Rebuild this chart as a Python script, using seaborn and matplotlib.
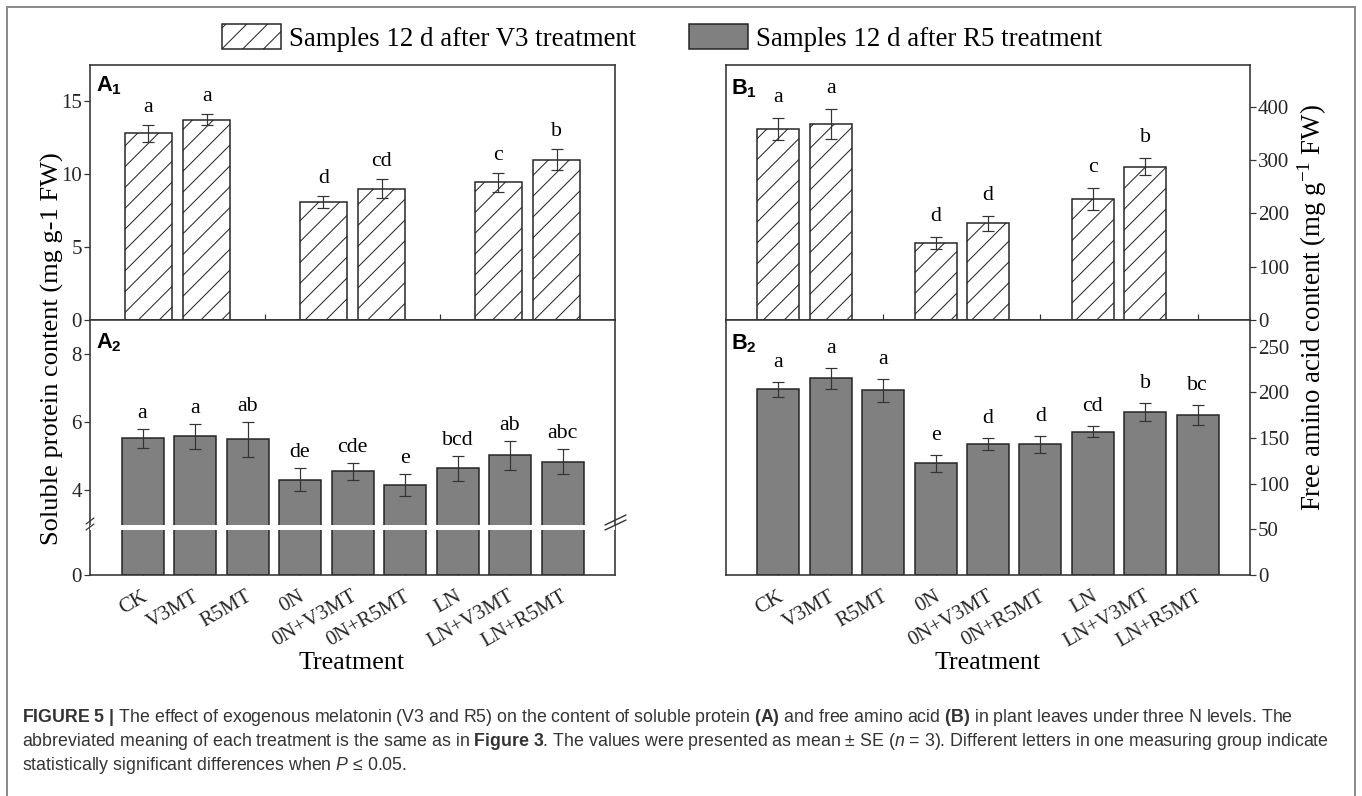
import numpy as np
import matplotlib
matplotlib.use("Agg")
import matplotlib.pyplot as plt
import matplotlib.transforms as mtransforms
from matplotlib.patches import Patch
from matplotlib.lines import Line2D
from matplotlib import font_manager as fm
import seaborn as sns

# ---------------- data ----------------
treatments = ["CK", "V3MT", "R5MT", "0N", "0N+V3MT", "0N+R5MT", "LN", "LN+V3MT", "LN+R5MT"]
v3_treatments = ["CK", "V3MT", "0N", "0N+V3MT", "LN", "LN+V3MT"]

protein_v3 = [12.8, 13.75, 8.1, 9.0, 9.45, 11.0]
protein_v3_se = [0.6, 0.4, 0.43, 0.65, 0.67, 0.73]
protein_v3_letters = ["a", "a", "d", "cd", "c", "b"]

protein_r5 = [5.52, 5.57, 5.49, 4.30, 4.54, 4.13, 4.63, 5.01, 4.82]
protein_r5_se = [0.28, 0.37, 0.52, 0.33, 0.25, 0.32, 0.36, 0.42, 0.37]
protein_r5_letters = ["a", "a", "ab", "de", "cde", "e", "bcd", "ab", "abc"]

amino_v3 = [358, 367, 144, 181, 227, 287]
amino_v3_se = [21, 28, 11, 14, 20, 16]
amino_v3_letters = ["a", "a", "d", "d", "c", "b"]

amino_r5 = [203, 215, 202, 122, 143, 143, 157, 178, 175]
amino_r5_se = [8, 11, 12.5, 9, 6.5, 9.5, 5.5, 10, 11]
amino_r5_letters = ["a", "a", "a", "e", "d", "d", "cd", "b", "bc"]

legend_labels = ["Samples 12 d after V3 treatment", "Samples 12 d after R5 treatment"]
ylabel_left = "Soluble protein content (mg g-1 FW)"
ylabel_right = r"Free amino acid content (mg g$^{-1}$ FW)"
xlabel = "Treatment"

# ---------------- setup ----------------
W, H, DPI = 1362, 796, 125


def pt(px):
    return px * 72.0 / DPI


avail = {f.name for f in fm.fontManager.ttflist}
CAP_FONT = "Liberation Sans Narrow" if "Liberation Sans Narrow" in avail else "Liberation Sans"

sns.set_theme(style="white")
plt.rcParams["font.family"] = ["Liberation Serif", "DejaVu Serif"]
plt.rcParams["mathtext.fontset"] = "custom"
plt.rcParams["mathtext.rm"] = "Liberation Serif"
plt.rcParams["mathtext.bf"] = "Liberation Sans:bold"
plt.rcParams["mathtext.sf"] = CAP_FONT + ":bold"
plt.rcParams["mathtext.it"] = CAP_FONT + ":italic"
plt.rcParams["axes.edgecolor"] = "#333333"
plt.rcParams["axes.linewidth"] = pt(1.6)
plt.rcParams["hatch.linewidth"] = pt(1.0)
plt.rcParams["hatch.color"] = "#222222"
plt.rcParams["text.color"] = "black"

EDGE = "#222222"
GRAY = "#808080"
TICK_FS = 12
LET_FS = 12.5

fig = plt.figure(figsize=(W / DPI, H / DPI), dpi=DPI)
fig.patch.set_facecolor("white")


def add_ax(l, t, r, b):
    return fig.add_axes([l / W, 1 - b / H, (r - l) / W, (b - t) / H])


def ftext(x, y, s, **kw):
    return fig.text(x / W, 1 - y / H, s, **kw)


def fline(xs, ys, **kw):
    fig.add_artist(Line2D([x / W for x in xs], [1 - y / H for y in ys],
                          transform=fig.transFigure, **kw))


def draw_bars(ax, pos, vals, se, letters, hatched, off_px):
    sns.barplot(x=pos, y=vals, native_scale=True, orient="x", width=0.8,
                color=GRAY, saturation=1, edgecolor=EDGE, linewidth=pt(1.5),
                errorbar=None, ax=ax, zorder=2)
    if hatched:
        for p in ax.patches:
            p.set_facecolor("white")
            p.set_hatch("//")
            p.set_edgecolor(EDGE)
    ax.errorbar(pos, vals, yerr=se, fmt="none", ecolor="#333333",
                elinewidth=pt(1.2), capsize=pt(6), capthick=pt(1.2), zorder=4)
    for x, v, s, l in zip(pos, vals, se, letters):
        ax.annotate(l, (x, v + s), xytext=(0, pt(off_px)), textcoords="offset points",
                    ha="center", va="baseline", fontsize=LET_FS)


def style_ax(ax, side):
    ax.tick_params(axis="x", which="both", direction="in", length=pt(6), width=pt(1.2),
                   bottom=True, top=False, labelbottom=False, color="#333333")
    if side == "left":
        ax.tick_params(axis="y", direction="out", length=pt(6), width=pt(1.2), left=True,
                       right=False, labelleft=True, labelright=False, labelsize=TICK_FS,
                       pad=pt(2), color="#333333")
    else:
        ax.tick_params(axis="y", direction="out", length=pt(6), width=pt(1.2), left=False,
                       right=True, labelleft=False, labelright=True, labelsize=TICK_FS,
                       pad=pt(2), color="#333333")
    for s in ax.spines.values():
        s.set_visible(True)
        s.set_color("#333333")
    ax.set_xlabel("")
    ax.set_ylabel("")


def set_xlabels(ax):
    ax.set_xticks(range(1, len(treatments) + 1))
    ax.set_xticklabels(treatments, rotation=30, ha="right", va="top", fontsize=TICK_FS)
    ax.tick_params(axis="x", labelbottom=True, pad=pt(12))
    shift = mtransforms.ScaledTranslation(8 / DPI, 0, fig.dpi_scale_trans)
    for lab in ax.get_xticklabels():
        lab.set_transform(lab.get_transform() + shift)


pos_all = [treatments.index(t) + 1 for t in treatments]
pos_v3 = [treatments.index(t) + 1 for t in v3_treatments]
pos_a1 = [v3_treatments.index(t) // 2 * 3 + v3_treatments.index(t) % 2 + 1 for t in v3_treatments]

# ---------------- panel A1 ----------------
axA1 = add_ax(90, 65, 615, 320)
draw_bars(axA1, pos_a1, protein_v3, protein_v3_se, protein_v3_letters, True, 13)
style_ax(axA1, "left")
axA1.set_xlim(0, 9)
axA1.set_ylim(0, 17.5)
axA1.set_yticks([0, 5, 10, 15])
axA1.set_yticklabels(["0", "5", "10", "15"])
axA1.set_xticks(range(1, 9))

# ---------------- panel A2 (broken axis) ----------------
BRK, LOW_PX, K_UP = 2.9, 48.0, 34.0


def fwd(y):
    y = np.asarray(y, dtype=float)
    return np.where(y <= BRK, y * LOW_PX / BRK, LOW_PX + (y - BRK) * K_UP)


def inv(u):
    u = np.asarray(u, dtype=float)
    return np.where(u <= LOW_PX, u * BRK / LOW_PX, BRK + (u - LOW_PX) / K_UP)


axA2 = add_ax(90, 320, 615, 575)
axA2.set_yscale("function", functions=(fwd, inv))
draw_bars(axA2, pos_all, protein_r5, protein_r5_se, protein_r5_letters, False, 11)
style_ax(axA2, "left")
axA2.set_xlim(0, 10)
axA2.set_ylim(0, 9)
axA2.set_yticks([0, 4, 6, 8])
axA2.set_yticklabels(["0", "4", "6", "8"])
axA2.yaxis.set_minor_locator(matplotlib.ticker.NullLocator())
set_xlabels(axA2)
axA2.axhline(BRK, color="white", lw=pt(5), zorder=6)

# break marks
fline([605, 626], [530, 520], color="#333333", lw=pt(1.4), zorder=10)
fline([605, 626], [525, 515], color="#333333", lw=pt(1.4), zorder=10)
fline([86, 94], [530, 524], color="#333333", lw=pt(1.2), zorder=10)
fline([86, 94], [524, 518], color="#333333", lw=pt(1.2), zorder=10)

# ---------------- panel B1 ----------------
axB1 = add_ax(726, 65, 1250, 320)
draw_bars(axB1, pos_v3, amino_v3, amino_v3_se, amino_v3_letters, True, 16)
style_ax(axB1, "right")
axB1.set_xlim(0, 10)
axB1.set_ylim(0, 478)
axB1.set_yticks([0, 100, 200, 300, 400])
axB1.set_yticklabels(["0", "100", "200", "300", "400"])
axB1.set_xticks(range(1, 10))

# ---------------- panel B2 ----------------
axB2 = add_ax(726, 320, 1250, 575)
draw_bars(axB2, pos_all, amino_r5, amino_r5_se, amino_r5_letters, False, 15)
style_ax(axB2, "right")
axB2.set_xlim(0, 10)
axB2.set_ylim(0, 279)
axB2.set_yticks([0, 50, 100, 150, 200, 250])
axB2.set_yticklabels(["0", "50", "100", "150", "200", "250"])
set_xlabels(axB2)

# ---------------- panel letters ----------------
for x, y, s in [(96, 74, r"$\mathbf{A}_{\mathbf{1}}$"), (96, 331, r"$\mathbf{A}_{\mathbf{2}}$"),
                (731, 77, r"$\mathbf{B}_{\mathbf{1}}$"), (731, 332, r"$\mathbf{B}_{\mathbf{2}}$")]:
    ftext(x, y, s, fontsize=12.5, ha="left", va="top")

# ---------------- axis titles ----------------
ftext(352, 663, xlabel, fontsize=15, ha="center", va="center")
ftext(988, 663, xlabel, fontsize=15, ha="center", va="center")
ftext(52, 349, ylabel_left, fontsize=15.2, rotation=90, ha="center", va="center")
ftext(1312, 308, ylabel_right, fontsize=15.5, rotation=90, ha="center", va="center")

# ---------------- legend ----------------
handles = [Patch(facecolor="white", edgecolor=EDGE, hatch="//", linewidth=pt(1.5)),
           Patch(facecolor=GRAY, edgecolor=EDGE, linewidth=pt(1.5))]
fig.legend(handles=handles, labels=legend_labels, loc="center",
           bbox_to_anchor=(662 / W, 1 - 38 / H), ncol=2, frameon=False, fontsize=15.5,
           handlelength=2.19, handleheight=1.07, handletextpad=0.3, columnspacing=1.96,
           borderpad=0, borderaxespad=0)

# ---------------- caption ----------------
cap1 = (r"$\mathsf{FIGURE\ 5\ |}$ The effect of exogenous melatonin (V3 and R5) on the content of "
        r"soluble protein $\mathsf{(A)}$ and free amino acid $\mathsf{(B)}$ in plant leaves under three N levels. The")
cap2 = (r"abbreviated meaning of each treatment is the same as in $\mathsf{Figure\ 3}$. The values were "
        r"presented as mean ± SE ($\mathit{n}$ = 3). Different letters in one measuring group indicate")
cap3 = r"statistically significant differences when $\mathit{P}$ ≤ 0.05."
cap_fs = 11.2 if CAP_FONT.endswith("Narrow") else 10.2
for i, line in enumerate([cap1, cap2, cap3]):
    ftext(22, 718 + 24 * i, line, fontsize=cap_fs, ha="left", va="center",
          family=[CAP_FONT, "DejaVu Sans"], color="#333333")

# ---------------- outer frame ----------------
fline([7, 1355], [7, 7], color="#8c8c8c", lw=pt(2))
fline([7, 7], [7, 796], color="#8c8c8c", lw=pt(2))
fline([1355, 1355], [7, 796], color="#8c8c8c", lw=pt(2))

fig.savefig("out.png", dpi=DPI, facecolor="white")
